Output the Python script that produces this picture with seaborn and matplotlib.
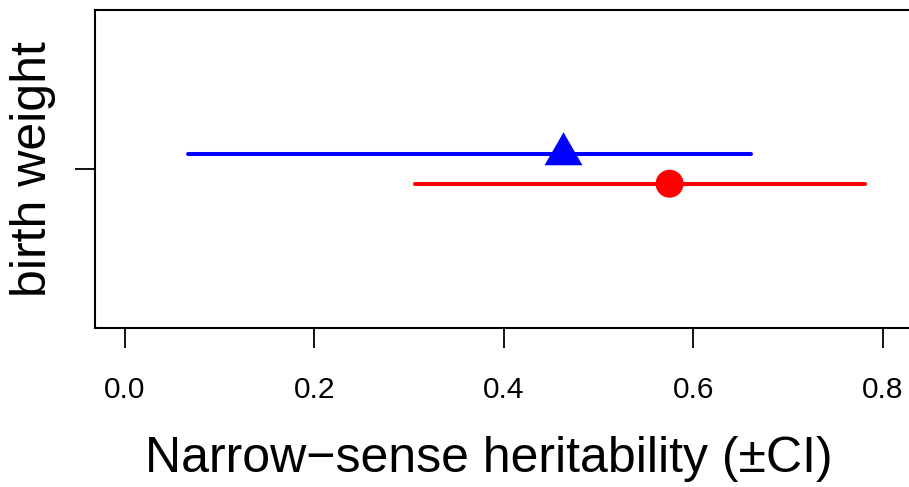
import matplotlib
matplotlib.use("Agg")
import matplotlib.pyplot as plt
import seaborn as sns
import pandas as pd

# data
groups = ["blue", "red"]
estimates = [0.463, 0.575]
ci_low = [0.066, 0.306]
ci_high = [0.661, 0.781]
y_offsets = [0.05, -0.05]
colors = ["#0000FF", "#FF0000"]
trait = "birth weight"
xticks = [0.0, 0.2, 0.4, 0.6, 0.8]
xtick_labels = ["0.0", "0.2", "0.4", "0.6", "0.8"]

df = pd.DataFrame({"group": groups, "h2": estimates, "lo": ci_low,
                   "hi": ci_high, "y": y_offsets})

sns.set_style("white")
plt.rcParams["font.family"] = ["Liberation Sans", "DejaVu Sans"]
plt.rcParams["text.color"] = "black"
plt.rcParams["axes.labelcolor"] = "black"
plt.rcParams["xtick.color"] = "black"
plt.rcParams["ytick.color"] = "black"

W, H = 909, 487
fig = plt.figure(figsize=(W / 100, H / 100), dpi=100)
ax_l, ax_r, ax_t, ax_b = 94.7, 913.0, 10.0, 328.0
ax = fig.add_axes([ax_l / W, 1 - ax_b / H, (ax_r - ax_l) / W, (ax_b - ax_t) / H])

for i, row in df.iterrows():
    ax.hlines(row["y"], row["lo"], row["hi"], colors=colors[i], linewidth=2.9,
              capstyle="round", zorder=2)

tri = [(0, 22), (-19, -11), (19, -11)]
sub = df[df.group == "blue"]
sns.scatterplot(data=sub, x="h2", y="y", marker=tri, s=1004, color=colors[0],
                edgecolor="none", linewidth=0, ax=ax, zorder=3, legend=False)
sub = df[df.group == "red"]
sns.scatterplot(data=sub, x="h2", y="y", marker="o", s=406, color=colors[1],
                edgecolor="none", linewidth=0, ax=ax, zorder=3, legend=False)

ax.set_xlim(-0.032, 0.832)
ax.set_ylim(-0.54, 0.54)
ax.set_xticks(xticks)
ax.set_xticklabels(xtick_labels, fontsize=21.5, color="black")
ax.set_yticks([0])
ax.set_yticklabels([""])
ax.tick_params(axis="both", direction="out", length=14.4, width=1.3,
               color="black", labelcolor="black", bottom=True, left=True)
ax.tick_params(axis="x", pad=20)

for s in ax.spines.values():
    s.set_color("black")
    s.set_linewidth(1.5)
    s.set_visible(True)

ax.set_xlabel("Narrow\u2212sense heritability (\u00b1CI)", fontsize=36, color="black")
ax.xaxis.set_label_coords((489 - ax_l) / (ax_r - ax_l), -(436 - ax_b) / (ax_b - ax_t))
ax.set_ylabel(trait, fontsize=36, color="black")
ax.yaxis.set_label_coords(-(ax_l - 56) / (ax_r - ax_l), 0.5)

fig.savefig("out.png", dpi=100)
